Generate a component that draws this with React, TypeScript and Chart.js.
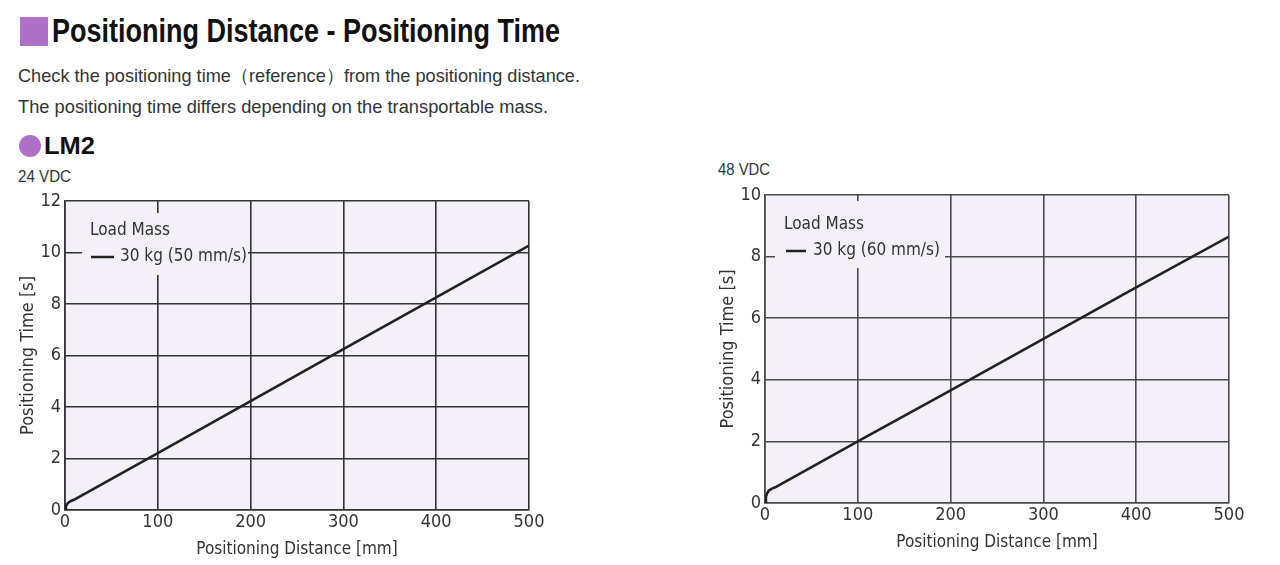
import React, { useEffect, useLayoutEffect, useRef } from "react";
import { Chart, registerables } from "chart.js";

Chart.register(...registerables);

// ---------- data ----------
const xTickValues = [0, 100, 200, 300, 400, 500];

const distances24 = [0, 1, 2, 4, 7, 11, 100, 200, 300, 400, 500];
const times24 = [0, 0.15, 0.22, 0.3, 0.36, 0.42, 2.21, 4.23, 6.25, 8.26, 10.27];
const yTicks24 = [0, 2, 4, 6, 8, 10, 12];
const label24 = "30 kg (50 mm/s)";

const distances48 = [0, 1, 2, 4, 7, 11, 100, 200, 300, 400, 500];
const times48 = [0, 0.2, 0.3, 0.4, 0.46, 0.51, 2.0, 3.66, 5.33, 7.0, 8.65];
const yTicks48 = [0, 2, 4, 6, 8, 10];
const label48 = "30 kg (60 mm/s)";

const legendTitle = "Load Mass";
const xTitle = "Positioning Distance [mm]";
const yTitle = "Positioning Time [s]";

// ---------- styles ----------
const NARROW = '"DejaVu Sans Condensed", "Liberation Sans", sans-serif';
const SANS = '"Liberation Sans", Arial, sans-serif';
const PLOT_BG = "#f4f0f8";
const PURPLE = "#b070c8";
const TEXT = "#333333";

type ChartSpec = {
  xs: number[];
  ys: number[];
  yTicks: number[];
  label: string;
  gridColor: string;
  padding: { left: number; right: number; top: number; bottom: number };
  xAxisHeight: number;
  legendBox: { x: number; y: number; w: number; h: number; tx: number; lx: number; lw: number; sx: number };
};

function FitText({
  text,
  left,
  top,
  width,
  size,
  bold,
  color,
}: {
  text: string;
  left: number;
  top: number;
  width: number;
  size: number;
  bold?: boolean;
  color: string;
}) {
  const ref = useRef<HTMLDivElement | null>(null);
  useLayoutEffect(() => {
    const el = ref.current;
    if (!el) return;
    el.style.transform = "none";
    const w = el.getBoundingClientRect().width;
    if (w > 0) el.style.transform = `scaleX(${width / w})`;
  }, [text, width]);
  return (
    <div
      ref={ref}
      style={{
        position: "absolute",
        left,
        top,
        margin: 0,
        whiteSpace: "nowrap",
        fontFamily: SANS,
        fontWeight: bold ? "bold" : "normal",
        fontSize: size,
        lineHeight: `${size}px`,
        color,
        transformOrigin: "0 0",
        display: "inline-block",
      }}
    >
      {text}
    </div>
  );
}

function LineChart({ spec, style }: { spec: ChartSpec; style: React.CSSProperties }) {
  const ref = useRef<HTMLCanvasElement | null>(null);
  useEffect(() => {
    if (!ref.current) return;
    const yMax = spec.yTicks[spec.yTicks.length - 1];
    const plotBg = {
      id: "plotBg",
      beforeDraw(chart: any) {
        const { ctx, chartArea: a } = chart;
        ctx.save();
        ctx.fillStyle = PLOT_BG;
        ctx.fillRect(a.left, a.top, a.right - a.left, a.bottom - a.top);
        ctx.restore();
      },
    };
    const legendBox = {
      id: "legendBox",
      beforeDatasetsDraw(chart: any) {
        const { ctx, chartArea: a } = chart;
        const b = spec.legendBox;
        ctx.save();
        ctx.fillStyle = PLOT_BG;
        ctx.fillRect(a.left + b.x, a.top + b.y, b.w, b.h);
        ctx.fillStyle = TEXT;
        ctx.font = `17px ${NARROW}`;
        ctx.textBaseline = "middle";
        ctx.textAlign = "left";
        ctx.fillText(legendTitle, a.left + b.tx, a.top + 30);
        ctx.strokeStyle = "#222";
        ctx.lineWidth = 2.5;
        ctx.beginPath();
        ctx.moveTo(a.left + b.lx, a.top + 56);
        ctx.lineTo(a.left + b.lx + b.lw, a.top + 56);
        ctx.stroke();
        ctx.fillText(chart.data.datasets[0].label, a.left + b.sx, a.top + 56);
        ctx.restore();
      },
    };
    const chart = new Chart(ref.current, {
      type: "line",
      data: {
        datasets: [
          {
            label: spec.label,
            data: spec.xs.map((x, i) => ({ x, y: spec.ys[i] })),
            borderColor: "#222",
            borderWidth: 2.6,
            borderJoinStyle: "round",
            pointRadius: 0,
            fill: false,
            tension: 0,
          },
        ],
      },
      options: {
        animation: false,
        responsive: false,
        maintainAspectRatio: false,
        layout: { padding: spec.padding },
        plugins: { legend: { display: false }, tooltip: { enabled: false } },
        scales: {
          x: {
            type: "linear",
            min: 0,
            max: 500,
            afterBuildTicks: (s: any) => {
              s.ticks = xTickValues.map((v) => ({ value: v }));
            },
            afterFit: (s: any) => {
              s.height = spec.xAxisHeight;
            },
            ticks: { color: TEXT, font: { family: NARROW, size: 18 }, padding: 2, maxRotation: 0 },
            grid: { color: spec.gridColor, lineWidth: 1.6, drawTicks: false },
            border: { display: true, color: spec.gridColor, width: 1.6 },
            title: {
              display: true,
              text: xTitle,
              color: TEXT,
              font: { family: NARROW, size: 17, lineHeight: 1 },
              padding: { top: 0, bottom: 0 },
            },
          },
          y: {
            type: "linear",
            min: 0,
            max: yMax,
            afterBuildTicks: (s: any) => {
              s.ticks = spec.yTicks.map((v) => ({ value: v }));
            },
            afterFit: (s: any) => {
              s.width = 50;
            },
            ticks: { color: TEXT, font: { family: NARROW, size: 18 }, padding: 4 },
            grid: { color: spec.gridColor, lineWidth: 1.6, drawTicks: false },
            border: { display: true, color: spec.gridColor, width: 1.6 },
            title: {
              display: true,
              text: yTitle,
              color: TEXT,
              font: { family: NARROW, size: 18, lineHeight: 1 },
              padding: { top: 4, bottom: 0 },
            },
          },
        },
      },
      plugins: [plotBg, legendBox],
    } as any);
    return () => chart.destroy();
  }, [spec]);
  const w = style.width as number;
  const h = style.height as number;
  return (
    <div style={{ position: "absolute", ...style }}>
      <canvas ref={ref} width={w} height={h} style={{ width: w, height: h, display: "block" }} />
    </div>
  );
}

const spec24: ChartSpec = {
  xs: distances24,
  ys: times24,
  yTicks: yTicks24,
  label: label24,
  gridColor: "#333333",
  padding: { left: 15, right: 31, top: 16, bottom: 7 },
  xAxisHeight: 48,
  legendBox: { x: 17, y: 12, w: 166, h: 62, tx: 25, lx: 26, lw: 23, sx: 55 },
};

const spec48: ChartSpec = {
  xs: distances48,
  ys: times48,
  yTicks: yTicks48,
  label: label48,
  gridColor: "#4a4a4a",
  padding: { left: 15, right: 31, top: 15, bottom: 14 },
  xAxisHeight: 48,
  legendBox: { x: 10, y: 6, w: 170, h: 67, tx: 19, lx: 21, lw: 20, sx: 48 },
};

export default function App() {
  return (
    <div style={{ position: "absolute", left: 0, top: 0, width: 1280, height: 565, background: "#fff", overflow: "hidden" }}>
      <div style={{ position: "absolute", left: 20, top: 17, width: 28, height: 29, background: PURPLE }} />
      <FitText text="Positioning Distance - Positioning Time" left={52} top={14} width={508} size={33} bold color="#111" />
      <FitText
        text="Check the positioning time（reference）from the positioning distance."
        left={18}
        top={66}
        width={562}
        size={19}
        color={TEXT}
      />
      <FitText
        text="The positioning time differs depending on the transportable mass."
        left={18}
        top={97}
        width={530}
        size={19}
        color={TEXT}
      />
      <div style={{ position: "absolute", left: 19, top: 135, width: 22, height: 22, borderRadius: "50%", background: PURPLE }} />
      <FitText text="LM2" left={44} top={135} width={51} size={23} bold color="#111" />
      <FitText text="24 VDC" left={18} top={169} width={53} size={16} color={TEXT} />
      <FitText text="48 VDC" left={718} top={162} width={52} size={16} color={TEXT} />
      <LineChart spec={spec24} style={{ left: 0, top: 185, width: 560, height: 380 }} />
      <LineChart spec={spec48} style={{ left: 700, top: 180, width: 560, height: 385 }} />
    </div>
  );
}
